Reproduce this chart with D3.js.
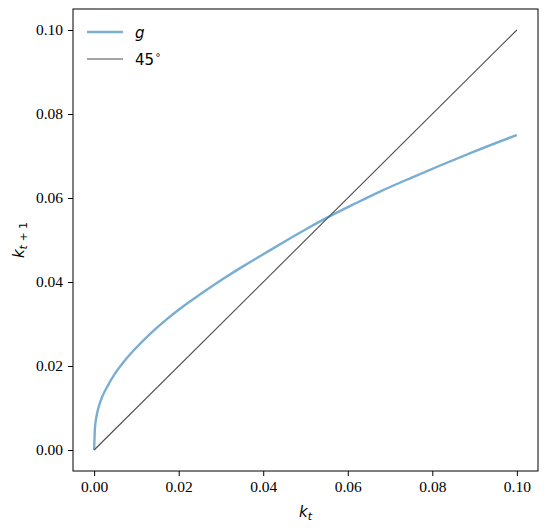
<!DOCTYPE html>
<html>
<head>
<meta charset="utf-8">
<script src="https://cdn.jsdelivr.net/npm/d3@7"></script>
<style>
  body { margin: 0; background: #fff; }
</style>
</head>
<body>
<div id="chart"></div>
<script>
// capital today vs capital tomorrow
const kVals = [0, 0.0002, 0.0006, 0.0015, 0.003, 0.005, 0.0075, 0.01, 0.0135, 0.017, 0.02, 0.025, 0.03, 0.035, 0.04, 0.045, 0.05, 0.056, 0.062, 0.068, 0.075, 0.082, 0.09, 0.1];
const gVals = [0, 0.0053, 0.0082, 0.0116, 0.0149, 0.0183, 0.0216, 0.0244, 0.0279, 0.0310, 0.0334, 0.0370, 0.0404, 0.0436, 0.0466, 0.0496, 0.0525, 0.0558, 0.0588, 0.0617, 0.0648, 0.0678, 0.0711, 0.0750];
const diagVals = [0, 0.1];
const xTicks = [0, 0.02, 0.04, 0.06, 0.08, 0.10];
const yTicks = [0, 0.02, 0.04, 0.06, 0.08, 0.10];
const legendLabels = ["g", "45"];

const W = 547, H = 531;
const margin = { left: 73, top: 9, right: 9, bottom: 60 };
const innerW = W - margin.left - margin.right;
const innerH = H - margin.top - margin.bottom;

const svg = d3.select("#chart").append("svg").attr("width", W).attr("height", H);
const g = svg.append("g").attr("transform", `translate(${margin.left},${margin.top})`);

const x = d3.scaleLinear().domain([-0.005, 0.105]).range([0, innerW]);
const y = d3.scaleLinear().domain([-0.005, 0.105]).range([innerH, 0]);

const xAxis = g.append("g")
    .attr("transform", `translate(0,${innerH})`)
    .call(d3.axisBottom(x).tickValues(xTicks).tickFormat(d3.format(".2f")).tickSize(5).tickPadding(5));
const yAxis = g.append("g")
    .call(d3.axisLeft(y).tickValues(yTicks).tickFormat(d3.format(".2f")).tickSize(5).tickPadding(5));
[xAxis, yAxis].forEach(a => {
    a.attr("font-family", "Liberation Serif").attr("font-size", 15.5);
    a.select(".domain").remove();
    a.selectAll(".tick line").attr("stroke", "#000").attr("stroke-width", 1);
    a.selectAll(".tick text").attr("fill", "#000");
});

// 45 degree line
g.append("path")
    .datum(diagVals)
    .attr("fill", "none")
    .attr("stroke", "#000")
    .attr("stroke-opacity", 0.7)
    .attr("stroke-width", 1.1)
    .attr("d", d3.line().x(d => x(d)).y(d => y(d)));

// g curve
const pts = kVals.map((k, i) => [k, gVals[i]]);
g.append("path")
    .datum(pts)
    .attr("fill", "none")
    .attr("stroke", "#1f77b4")
    .attr("stroke-opacity", 0.6)
    .attr("stroke-width", 2.4)
    .attr("d", d3.line().x(d => x(d[0])).y(d => y(d[1])).curve(d3.curveMonotoneX));

// frame
g.append("rect")
    .attr("width", innerW).attr("height", innerH)
    .attr("fill", "none").attr("stroke", "#000").attr("stroke-width", 1);

// legend
const legend = g.append("g").attr("transform", "translate(14,23)");
legend.append("line").attr("x1", 0).attr("x2", 36).attr("y1", 0).attr("y2", 0)
    .attr("stroke", "#1f77b4").attr("stroke-opacity", 0.6).attr("stroke-width", 2.4);
legend.append("text").attr("x", 48).attr("y", 5.5)
    .style("font-family", "DejaVu Sans").style("font-size", "15px").style("font-style", "italic")
    .text(legendLabels[0]);
legend.append("line").attr("x1", 0).attr("x2", 36).attr("y1", 27).attr("y2", 27)
    .attr("stroke", "#000").attr("stroke-opacity", 0.7).attr("stroke-width", 1.1);
const t45 = legend.append("text").attr("x", 48).attr("y", 32.5)
    .style("font-family", "DejaVu Sans").style("font-size", "15px");
t45.append("tspan").text(legendLabels[1]);
t45.append("tspan").attr("dy", -7).attr("dx", 1).style("font-size", "10px").text("\u2218");

// axis labels
const xl = svg.append("text")
    .attr("x", margin.left + innerW / 2).attr("y", 517)
    .attr("text-anchor", "middle")
    .style("font-family", "DejaVu Sans").style("font-size", "15px");
xl.append("tspan").style("font-style", "italic").text("k");
xl.append("tspan").attr("dy", 3).style("font-size", "11px").style("font-style", "italic").text("t");

const yl = svg.append("text")
    .attr("transform", `translate(24,${margin.top + innerH / 2}) rotate(-90)`)
    .attr("text-anchor", "middle")
    .style("font-family", "DejaVu Sans").style("font-size", "15px");
yl.append("tspan").style("font-style", "italic").text("k");
yl.append("tspan").attr("dy", 3).style("font-size", "11px").style("font-style", "italic").text("t");
yl.append("tspan").style("font-size", "11px").text(" + 1");
</script>
</body>
</html>
